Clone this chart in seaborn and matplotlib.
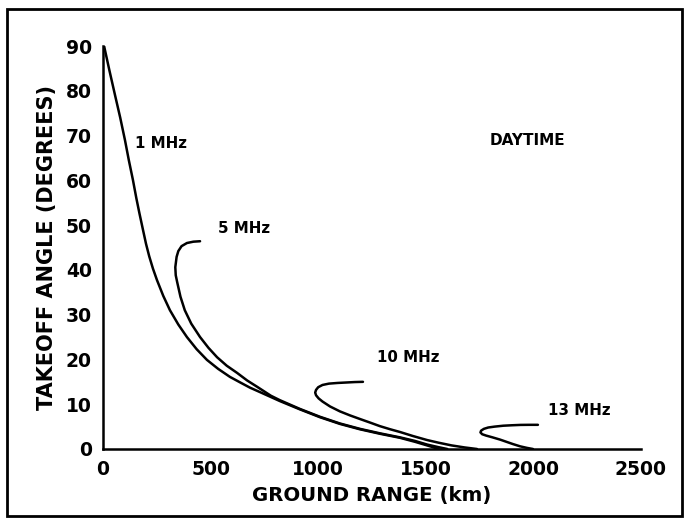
import matplotlib
matplotlib.use("Agg")
import matplotlib.pyplot as plt
import seaborn as sns
import pandas as pd
from matplotlib.patches import Rectangle

# ---- data ----
range_1mhz = [5, 30, 56, 80, 102, 120, 139, 155, 169, 186, 200, 215, 232, 251, 280, 311,
              350, 390, 435, 483, 535, 590, 640, 683, 725, 762, 822, 915, 1008, 1101,
              1194, 1287, 1380, 1450, 1506, 1560]
angle_1mhz = [90, 84.5, 79, 74, 69, 64.5, 60.1, 56, 52.7, 48.9, 45.8, 43, 40.3, 37.7,
              34.2, 31.0, 27.8, 25.0, 22.3, 19.9, 17.9, 16.1, 14.8, 13.7, 12.8, 12.0,
              10.7, 8.85, 7.1, 5.6, 4.4, 3.4, 2.5, 1.6, 0.8, 0]

range_5mhz = [451, 420, 390, 365, 350, 342, 336, 338, 345, 360, 380, 410, 451, 490, 530,
              575, 623, 670, 716, 780, 822, 915, 1008, 1101, 1194, 1287, 1380, 1450,
              1506, 1560, 1600]
angle_5mhz = [46.4, 46.3, 46.0, 45.3, 44.2, 42.9, 40.6, 38.8, 37.2, 34, 31, 28, 25.0,
              22.6, 20.5, 18.6, 17.0, 15.3, 13.9, 11.9, 10.9, 8.95, 7.2, 5.7, 4.5, 3.5,
              2.6, 1.8, 1.0, 0.4, 0]

range_10mhz = [1208, 1170, 1130, 1090, 1050, 1020, 1000, 990, 986, 990, 1002, 1020, 1055,
               1101, 1148, 1194, 1241, 1287, 1335, 1380, 1440, 1506, 1560, 1620, 1680,
               1738]
angle_10mhz = [15.0, 14.95, 14.85, 14.75, 14.6, 14.3, 13.8, 13.2, 12.6, 12.0, 11.3, 10.6,
               9.5, 8.4, 7.5, 6.7, 5.9, 5.1, 4.4, 3.8, 2.9, 2.0, 1.4, 0.8, 0.35, 0]

range_13mhz = [2021, 1980, 1940, 1900, 1860, 1820, 1790, 1770, 1757, 1754, 1762, 1780,
               1810, 1845, 1875, 1905, 1938, 1970, 1998]
angle_13mhz = [5.4, 5.4, 5.38, 5.3, 5.2, 5.0, 4.8, 4.5, 4.1, 3.7, 3.3, 3.0, 2.6, 2.1,
               1.6, 1.1, 0.6, 0.25, 0]

curve_labels = ["1 MHz", "5 MHz", "10 MHz", "13 MHz"]
label_x = [150, 535, 1275, 2070]
label_y = [68.3, 49.3, 20.5, 8.7]

x_ticks = [0, 500, 1000, 1500, 2000, 2500]
y_ticks = [0, 10, 20, 30, 40, 50, 60, 70, 80, 90]

# ---- figure ----
sns.set_theme(style="white")
plt.rcParams["font.family"] = ["DejaVu Sans"]

fig = plt.figure(figsize=(6.86, 5.19), dpi=100)
ax = fig.add_axes([103 / 686, 1 - 449 / 519, (641 - 103) / 686, (449 - 46) / 519])

series = [(range_1mhz, angle_1mhz), (range_5mhz, angle_5mhz),
          (range_10mhz, angle_10mhz), (range_13mhz, angle_13mhz)]
for i, (xs, ys) in enumerate(series):
    df = pd.DataFrame({"range": xs, "angle": ys, "pt": range(len(xs))})
    sns.lineplot(data=df, x="range", y="angle", sort=False, estimator=None,
                 color="black", lw=1.8, ax=ax)
for ln in ax.lines:
    ln.set_solid_joinstyle("round")
    ln.set_solid_capstyle("round")

for txt, lx, ly in zip(curve_labels, label_x, label_y):
    ax.text(lx, ly, txt, fontsize=10.8, fontweight="bold", ha="left", va="center",
            color="black")
ax.text(1970, 69, "DAYTIME", fontsize=11, fontweight="bold", ha="center", va="center",
        color="black")

ax.set_xlim(0, 2500)
ax.set_ylim(0, 90)
ax.set_xticks(x_ticks)
ax.set_yticks(y_ticks)
ax.set_xticklabels([str(t) for t in x_ticks], fontsize=13.5, fontweight="bold")
ax.set_yticklabels([str(t) for t in y_ticks], fontsize=13.5, fontweight="bold")
ax.tick_params(axis="both", direction="in", length=6, width=1.5, colors="black",
               labelcolor="black")
ax.tick_params(axis="x", pad=8)
ax.tick_params(axis="y", pad=8)
ax.set_xlabel("GROUND RANGE (km)", fontsize=14.2, fontweight="bold", labelpad=5,
              color="black")
ax.set_ylabel("TAKEOFF ANGLE (DEGREES)", fontsize=15, fontweight="bold", labelpad=6,
              color="black")
for s in ["top", "right"]:
    ax.spines[s].set_visible(False)
for s in ["left", "bottom"]:
    ax.spines[s].set_color("black")
    ax.spines[s].set_linewidth(1.8)
ax.patch.set_alpha(0)
ax.grid(False)
if ax.get_legend():
    ax.get_legend().remove()

# outer frame
fig.patches.append(Rectangle((7 / 686, 1 - 516 / 519), (682 - 7) / 686, (516 - 9) / 519,
                             transform=fig.transFigure, fill=False, edgecolor="black",
                             linewidth=2))

fig.savefig("out.png", dpi=100)
